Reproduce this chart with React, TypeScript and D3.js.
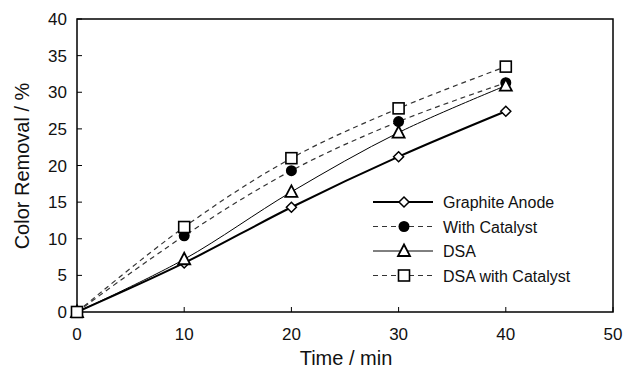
import * as d3 from 'd3';
import * as React from 'react';

const times = [0, 10, 20, 30, 40];
const graphiteAnode = [0, 6.7, 14.3, 21.2, 27.4];
const withCatalyst = [0, 10.4, 19.3, 26.0, 31.3];
const dsa = [0, 7.2, 16.4, 24.5, 30.9];
const dsaWithCatalyst = [0, 11.6, 21.0, 27.8, 33.5];
const xTicks = [0, 10, 20, 30, 40, 50];
const yTicks = [0, 5, 10, 15, 20, 25, 30, 35, 40];

const series = [
  { name: 'Graphite Anode', values: graphiteAnode, marker: 'diamond', dash: null, width: 2 },
  { name: 'With Catalyst', values: withCatalyst, marker: 'circle', dash: '5,4', width: 1.2 },
  { name: 'DSA', values: dsa, marker: 'triangle', dash: null, width: 1 },
  { name: 'DSA with Catalyst', values: dsaWithCatalyst, marker: 'square', dash: '5,4', width: 1.2 },
];

const W = 628;
const H = 380;
const margin = { top: 19, right: 15, bottom: 68, left: 77 };

const Marker = ({ type, x, y }) => {
  if (type === 'circle') {
    return <circle cx={x} cy={y} r={5.5} fill="#000" />;
  }
  if (type === 'square') {
    return <rect x={x - 5.5} y={y - 5.5} width={11} height={11} fill="#fff" stroke="#000" strokeWidth={1.6} />;
  }
  if (type === 'triangle') {
    return <path d={`M${x},${y - 6.5}L${x + 6},${y + 5}L${x - 6},${y + 5}Z`} fill="#fff" stroke="#000" strokeWidth={1.8} />;
  }
  return <path d={`M${x},${y - 5}L${x + 5},${y}L${x},${y + 5}L${x - 5},${y}Z`} fill="#fff" stroke="#000" strokeWidth={1.5} />;
};

const App = () => {
  const iw = W - margin.left - margin.right;
  const ih = H - margin.top - margin.bottom;
  const x = d3.scaleLinear().domain([0, 50]).range([0, iw]);
  const y = d3.scaleLinear().domain([0, 40]).range([ih, 0]);
  const line = d3
    .line<number>()
    .x((_, i) => x(times[i]))
    .y((d) => y(d))
    .curve(d3.curveCatmullRom.alpha(0.5));

  const font = 'Liberation Sans, Arial, Helvetica, sans-serif';
  const legendX = 373 - margin.left;
  const legendY = 202 - margin.top;

  return (
    <svg width={W} height={H} style={{ position: 'absolute', left: 0, top: 0, background: '#fff' }} fontFamily={font}>
      <g transform={`translate(${margin.left},${margin.top})`}>
        <rect x={0} y={0} width={iw} height={ih} fill="none" stroke="#000" strokeWidth={1.5} />
        {xTicks.map((t) => (
          <g key={'x' + t}>
            <line x1={x(t)} x2={x(t)} y1={ih} y2={ih - 5} stroke="#000" strokeWidth={1} />
            <text x={x(t)} y={ih + 28} textAnchor="middle" fontSize={17} fill="#111">
              {t}
            </text>
          </g>
        ))}
        {yTicks.map((t) => (
          <g key={'y' + t}>
            <line x1={0} x2={5} y1={y(t)} y2={y(t)} stroke="#000" strokeWidth={1} />
            <text x={-10} y={y(t) + 6} textAnchor="end" fontSize={17} fill="#111">
              {t}
            </text>
          </g>
        ))}
        {series.map((s) => (
          <path
            key={s.name}
            d={line(s.values) || ''}
            fill="none"
            stroke={s.dash ? '#333' : '#000'}
            strokeWidth={s.width}
            strokeDasharray={s.dash || undefined}
          />
        ))}
        {series.map((s) => (
          <g key={s.name + 'm'}>
            {s.values.map((v, i) => (
              <Marker key={i} type={s.marker} x={x(times[i])} y={y(v)} />
            ))}
          </g>
        ))}
        {series.map((s, i) => (
          <g key={s.name + 'l'} transform={`translate(${legendX},${legendY + i * 24.5})`}>
            <line
              x1={0}
              x2={60}
              y1={0}
              y2={0}
              stroke={s.dash ? '#333' : '#000'}
              strokeWidth={s.width}
              strokeDasharray={s.dash || undefined}
            />
            <Marker type={s.marker} x={31} y={0} />
            <text x={70} y={6} fontSize={16} fill="#111">
              {s.name}
            </text>
          </g>
        ))}
      </g>
      <text x={346} y={365} textAnchor="middle" fontSize={20} fill="#111">
        Time / min
      </text>
      <text transform={`translate(29,166) rotate(-90)`} textAnchor="middle" fontSize={20} fill="#111">
        Color Removal / %
      </text>
    </svg>
  );
};

export default App;
